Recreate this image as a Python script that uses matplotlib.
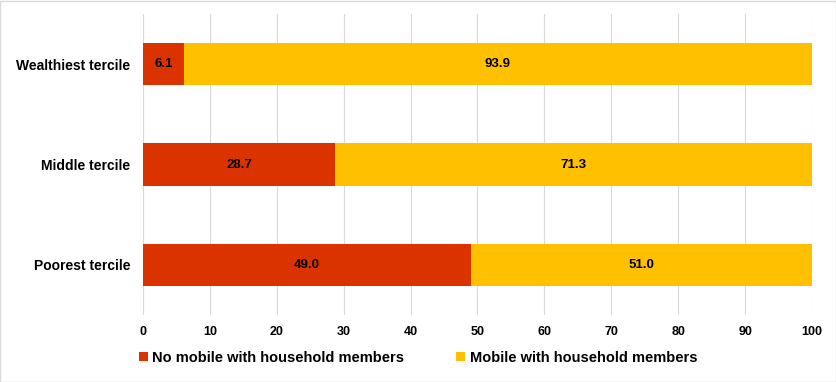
import matplotlib
matplotlib.use("Agg")
import matplotlib.pyplot as plt
from matplotlib.patches import Rectangle

categories = ["Poorest tercile", "Middle tercile", "Wealthiest tercile"]
no_mobile = [49.0, 28.7, 6.1]
mobile = [51.0, 71.3, 93.9]
series_names = ["No mobile with household members", "Mobile with household members"]
xticks = [0, 10, 20, 30, 40, 50, 60, 70, 80, 90, 100]

plt.rcParams['font.family'] = ['Liberation Sans', 'DejaVu Sans']

fig = plt.figure(figsize=(8.37, 3.82), dpi=100)
ax = fig.add_axes([143/837, 1-315/382, (812-143)/837, (315-14)/382])

red = "#DA3300"
yellow = "#FFC000"
y = list(range(len(categories)))
b1 = ax.barh(y, no_mobile, height=0.42, color=red, label=series_names[0], zorder=3)
b2 = ax.barh(y, mobile, left=no_mobile, height=0.42, color=yellow, label=series_names[1], zorder=3)

for i in range(len(categories)):
    ax.text(no_mobile[i]/2, y[i], f"{no_mobile[i]:.1f}", ha="center", va="center",
            fontsize=9.5, fontweight="bold", color="black", zorder=4)
    ax.text(no_mobile[i] + mobile[i]/2, y[i], f"{mobile[i]:.1f}", ha="center", va="center",
            fontsize=9.5, fontweight="bold", color="black", zorder=4)

ax.set_xlim(0, 100)
ax.set_ylim(-0.5, len(categories)-0.5)
ax.set_xticks(xticks)
ax.set_xticklabels([str(t) for t in xticks], fontsize=9, fontweight="bold")
ax.set_yticks(y)
ax.set_yticklabels(categories, fontsize=10, fontweight="bold")
ax.tick_params(axis="both", length=0)
ax.tick_params(axis="x", pad=8)
ax.tick_params(axis="y", pad=9)
ax.grid(axis="x", color="#D9D9D9", linewidth=0.8, zorder=0)
for s in ax.spines.values():
    s.set_visible(False)

leg = fig.legend(handles=[b1, b2], labels=series_names, loc="center left",
                 bbox_to_anchor=(133/837, 1-358/382), ncol=2, frameon=False,
                 prop={"size": 10.5, "weight": "bold"}, handlelength=0.6, handleheight=0.6,
                 handletextpad=0.3, columnspacing=3.6, borderaxespad=0)

fig.patches.append(Rectangle((0.5/837, 0.5/382), 1-1/837, 1-1/382, transform=fig.transFigure,
                             fill=False, edgecolor="#D9D9D9", linewidth=1))
fig.savefig("out.png", dpi=100)
